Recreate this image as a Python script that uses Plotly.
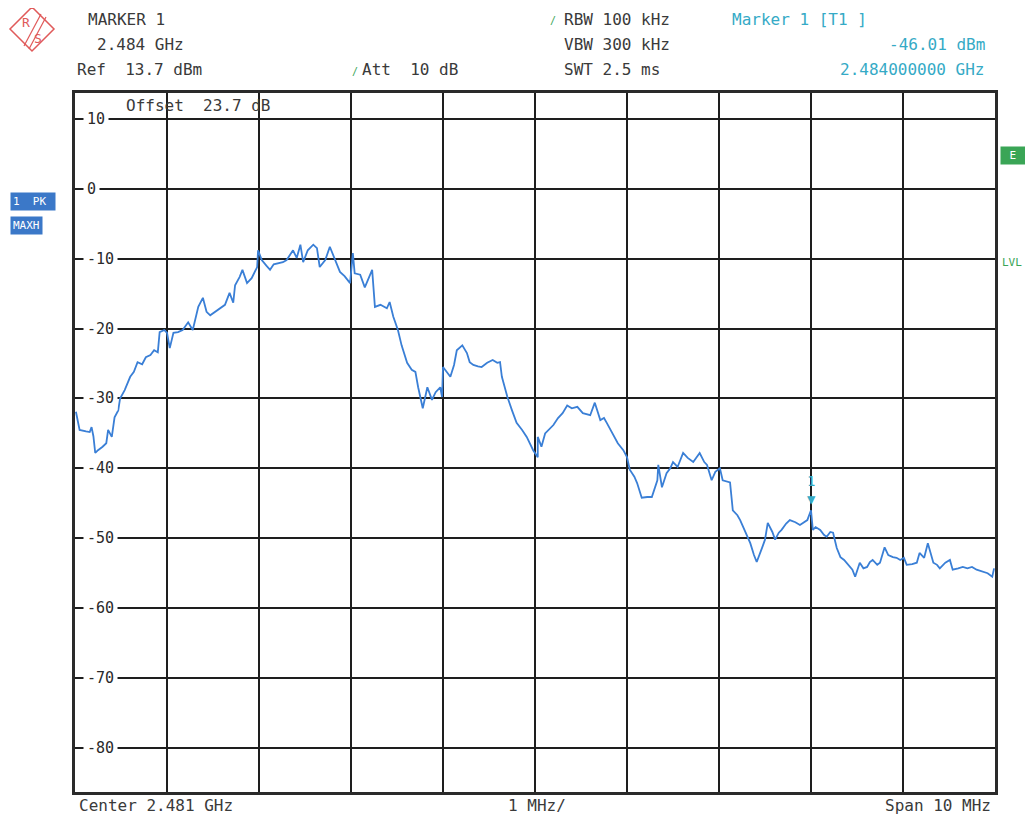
import plotly.graph_objects as go

# ---------------- data ----------------
freq_mhz = [
    2476.01, 2476.03, 2476.05, 2476.12, 2476.16, 2476.18, 2476.20, 2476.22, 2476.25, 2476.30,
    2476.34, 2476.36, 2476.40, 2476.43, 2476.47, 2476.49, 2476.54, 2476.60, 2476.64, 2476.68,
    2476.73, 2476.77, 2476.82, 2476.86, 2476.90, 2476.92, 2476.97, 2477.00, 2477.03, 2477.07,
    2477.12, 2477.17, 2477.23, 2477.28, 2477.34, 2477.39, 2477.43, 2477.47, 2477.52, 2477.58,
    2477.63, 2477.68, 2477.72, 2477.74, 2477.79, 2477.82, 2477.87, 2477.92, 2477.98, 2477.99,
    2478.03, 2478.08, 2478.12, 2478.16, 2478.21, 2478.26, 2478.30, 2478.37, 2478.41, 2478.45,
    2478.48, 2478.53, 2478.59, 2478.63, 2478.66, 2478.72, 2478.77, 2478.83, 2478.88, 2478.93,
    2478.99, 2479.02, 2479.04, 2479.10, 2479.15, 2479.23, 2479.26, 2479.32, 2479.39, 2479.42,
    2479.46, 2479.51, 2479.55, 2479.61, 2479.66, 2479.70, 2479.73, 2479.78, 2479.83, 2479.88,
    2479.92, 2479.97, 2479.99, 2480.00, 2480.04, 2480.08, 2480.12, 2480.15, 2480.21, 2480.26,
    2480.29, 2480.33, 2480.38, 2480.42, 2480.48, 2480.54, 2480.59, 2480.62, 2480.64, 2480.70,
    2480.75, 2480.80, 2480.86, 2480.91, 2480.98, 2481.03, 2481.03, 2481.07, 2481.11, 2481.15,
    2481.20, 2481.25, 2481.30, 2481.35, 2481.40, 2481.46, 2481.52, 2481.60, 2481.65, 2481.71,
    2481.75, 2481.78, 2481.84, 2481.87, 2481.90, 2481.96, 2482.00, 2482.03, 2482.08, 2482.11,
    2482.16, 2482.22, 2482.27, 2482.33, 2482.34, 2482.38, 2482.43, 2482.47, 2482.50, 2482.55,
    2482.61, 2482.66, 2482.72, 2482.79, 2482.84, 2482.87, 2482.92, 2482.96, 2483.01, 2483.04,
    2483.12, 2483.15, 2483.20, 2483.23, 2483.28, 2483.34, 2483.38, 2483.41, 2483.47, 2483.50,
    2483.53, 2483.58, 2483.61, 2483.65, 2483.68, 2483.73, 2483.77, 2483.83, 2483.88, 2483.92,
    2483.96, 2484.00, 2484.02, 2484.05, 2484.10, 2484.14, 2484.17, 2484.21, 2484.24, 2484.28,
    2484.32, 2484.36, 2484.40, 2484.45, 2484.48, 2484.53, 2484.57, 2484.61, 2484.64, 2484.67,
    2484.72, 2484.75, 2484.80, 2484.84, 2484.89, 2484.93, 2484.97, 2485.01, 2485.04, 2485.10,
    2485.15, 2485.18, 2485.23, 2485.27, 2485.33, 2485.37, 2485.40, 2485.46, 2485.51, 2485.54,
    2485.60, 2485.65, 2485.70, 2485.75, 2485.80, 2485.87, 2485.92, 2485.97, 2485.99,
]
level_dbm = [
    -31.9, -33.1, -34.5, -34.7, -34.8, -34.1, -35.4, -37.8, -37.4, -36.9,
    -36.4, -34.5, -35.5, -32.7, -31.7, -30.0, -28.8, -26.9, -26.2, -24.8,
    -25.1, -24.1, -23.8, -23.1, -23.4, -20.5, -20.2, -20.6, -22.8, -20.6,
    -20.5, -20.2, -19.1, -20.2, -16.9, -15.6, -17.6, -18.1, -17.6, -17.1,
    -16.6, -14.9, -16.3, -13.8, -12.6, -11.6, -13.5, -12.8, -11.2, -8.8,
    -10.2, -11.0, -11.6, -10.8, -10.6, -10.5, -10.2, -8.8, -9.9, -8.0,
    -10.5, -8.8, -8.0, -8.5, -11.2, -10.2, -8.3, -10.2, -11.9, -12.5,
    -13.5, -9.2, -12.1, -12.3, -14.1, -11.6, -16.9, -16.6, -17.1, -16.2,
    -18.3, -20.2, -22.4, -24.9, -25.9, -26.2, -28.4, -31.4, -28.4, -30.2,
    -29.1, -28.4, -29.8, -25.5, -26.2, -26.9, -25.2, -23.1, -22.4, -23.5,
    -24.8, -25.2, -25.4, -25.5, -24.9, -24.5, -24.9, -24.8, -26.9, -29.8,
    -31.7, -33.5, -34.5, -35.5, -37.4, -38.4, -35.5, -36.9, -35.0, -34.5,
    -33.8, -32.8, -32.1, -31.0, -31.4, -31.2, -32.1, -32.4, -30.6, -33.1,
    -32.8, -33.5, -35.0, -35.7, -36.4, -37.4, -38.4, -40.2, -41.2, -42.1,
    -44.2, -44.1, -44.1, -41.7, -39.5, -42.7, -40.7, -40.0, -39.1, -39.8,
    -37.8, -38.5, -39.1, -37.8, -39.1, -39.5, -41.7, -40.5, -40.0, -41.7,
    -42.0, -46.0, -46.7, -47.4, -48.8, -50.7, -52.4, -53.4, -51.3, -50.2,
    -47.8, -49.1, -50.2, -49.2, -48.8, -47.9, -47.4, -47.7, -48.1, -47.7,
    -47.4, -46.0, -48.8, -48.4, -48.8, -49.5, -49.8, -49.1, -49.2, -51.4,
    -52.7, -53.1, -53.8, -54.5, -55.5, -53.5, -54.3, -54.1, -53.4, -53.1,
    -53.8, -53.5, -51.3, -52.4, -52.7, -52.8, -53.1, -52.8, -53.8, -53.7,
    -53.5, -52.1, -52.8, -50.7, -53.5, -53.8, -54.3, -53.5, -53.1, -54.5,
    -54.3, -54.1, -54.3, -54.1, -54.5, -54.8, -55.0, -55.5, -54.3,
]

marker_freq = [2484.0]
marker_level = [-46.01]

ytick_vals = [10, 0, -10, -20, -30, -40, -50, -60, -70, -80]
ytick_text = ["10", "0", "-10", "-20", "-30", "-40", "-50", "-60", "-70", "-80"]

ref_level = 13.7
span_db = 100.0
center_mhz = 2481.0
span_mhz = 10.0

# ---------------- layout constants ----------------
PAGE_W, PAGE_H = 1033, 816
OFF = 8                       # default body margin of the html page
W, H = PAGE_W - OFF, PAGE_H - OFF
L, R, T, B = 75, 995, 93, 792  # plot frame in page pixels
MONO = "DejaVu Sans Mono"
TXT = "#3a3a3a"
CYAN = "#35aac6"
GREEN = "#3aa556"
BLUE = "#3b78c8"


def px(x):
    return (x - L) / (R - L)


def py(y):
    return (B - y) / (B - T)


fig = go.Figure()

fig.add_trace(go.Scatter(
    x=freq_mhz, y=level_dbm, mode="lines",
    line=dict(color="#3a7fd6", width=1.8),
    hoverinfo="skip", showlegend=False,
))

fig.update_layout(
    width=W, height=H,
    margin=dict(l=L - OFF, r=PAGE_W - R, t=T - OFF, b=PAGE_H - B),
    paper_bgcolor="white", plot_bgcolor="white",
    showlegend=False,
    xaxis=dict(
        range=[center_mhz - span_mhz / 2, center_mhz + span_mhz / 2],
        dtick=1, tick0=center_mhz, showgrid=True, gridcolor="#1e1e1e", gridwidth=2,
        showticklabels=False, zeroline=False, ticks="",
        showline=True, mirror=True, linecolor="#2a2a2a", linewidth=3,
    ),
    yaxis=dict(
        range=[ref_level - span_db, ref_level],
        tickvals=ytick_vals, showgrid=True, gridcolor="#1e1e1e", gridwidth=2,
        showticklabels=False, zeroline=False, ticks="",
        showline=True, mirror=True, linecolor="#2a2a2a", linewidth=3,
    ),
)

ann = []

# y-axis labels drawn inside the grid with a white backing
for v, t in zip(ytick_vals, ytick_text):
    ann.append(dict(
        x=px(83), y=v, xref="paper", yref="y", text=t, showarrow=False,
        xanchor="left", yanchor="middle", bgcolor="white", borderpad=3,
        font=dict(family=MONO, size=15, color="#2a2a2a"),
    ))


def txt(x, y, s, color=TXT, size=16, anchor="left", bg=None, pad=1):
    d = dict(x=px(x), y=py(y), xref="paper", yref="paper", text=s, showarrow=False,
             xanchor=anchor, yanchor="middle",
             font=dict(family=MONO, size=size, color=color))
    if bg:
        d["bgcolor"] = bg
        d["borderpad"] = pad
    ann.append(d)


# header
txt(86, 20, "MARKER 1")
txt(95, 45, "2.484 GHz")
txt(75, 70, "Ref  13.7 dBm")
txt(350, 71, "/", color=GREEN, size=10)
txt(360, 70, "Att  10 dB")
txt(548, 21, "/", color=GREEN, size=10)
txt(562, 20, "RBW 100 kHz")
txt(562, 45, "VBW 300 kHz")
txt(562, 70, "SWT 2.5 ms")
txt(730, 20, "Marker 1 [T1 ]", color=CYAN)
txt(987, 45, "-46.01 dBm", color=CYAN, anchor="right")
txt(987, 70, "2.484000000 GHz", color=CYAN, anchor="right")

# inside top of plot
txt(124, 106, "Offset  23.7 dB")

# footer
txt(77, 805, "Center 2.481 GHz")
txt(537, 805, "1 MHz/", anchor="center")
txt(993, 805, "Span 10 MHz", anchor="right")

# side boxes
txt(10, 202, "1  PK ", color="white", size=11, bg=BLUE, pad=2)
txt(10, 225, "MAXH", color="white", size=11, bg=BLUE, pad=2)
txt(1000, 155, " E ", color="white", size=11, bg=GREEN, pad=2)
txt(1000, 262, "LVL", color=GREEN, size=11)

# marker 1
ann.append(dict(
    x=marker_freq[0], y=marker_level[0], xref="x", yref="y",
    text="1<br>▼", showarrow=False, xanchor="center", yanchor="bottom",
    yshift=1, font=dict(family=MONO, size=14, color=CYAN),
))

# R&S logo letters
txt(26, 22, "R", color="#e05a5a", size=13, anchor="center")
txt(38, 38, "S", color="#e05a5a", size=13, anchor="center")

fig.update_layout(annotations=ann)

# R&S logo diamond and band
cx, cy, hs = 32, 29, 22
diamond = "M {} {} L {} {} L {} {} L {} {} Z".format(
    px(cx), py(cy - hs), px(cx + hs), py(cy), px(cx), py(cy + hs), px(cx - hs), py(cy))
shapes = [
    dict(type="path", path=diamond, xref="paper", yref="paper",
         line=dict(color="#e05a5a", width=1.5), fillcolor="rgba(0,0,0,0)"),
    dict(type="line", xref="paper", yref="paper", x0=px(41), y0=py(14), x1=px(24), y1=py(46),
         line=dict(color="#e05a5a", width=1.2)),
    dict(type="line", xref="paper", yref="paper", x0=px(46), y0=py(17), x1=px(29), y1=py(49),
         line=dict(color="#e05a5a", width=1.2)),
]
fig.update_layout(shapes=shapes)

fig.write_html("out.html")
